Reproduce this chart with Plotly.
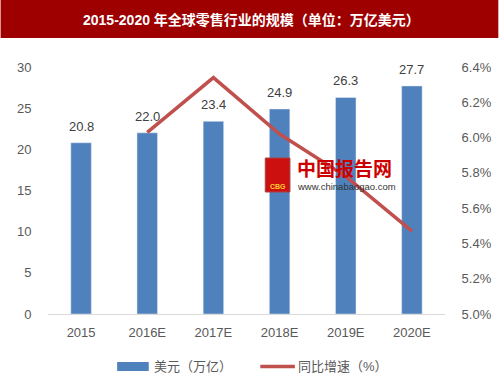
import plotly.graph_objects as go

years = ["2015", "2016E", "2017E", "2018E", "2019E", "2020E"]
sales = [20.8, 22.0, 23.4, 24.9, 26.3, 27.7]
growth_years = ["2016E", "2017E", "2018E", "2019E", "2020E"]
growth = [6.03, 6.34, 6.02, 5.78, 5.47]
legend_names = ["美元（万亿）", "同比增速（%）"]

title = "2015-2020 年全球零售行业的规模（单位：万亿美元）"
cjk = "Liberation Sans, Noto Sans CJK SC, sans-serif"
tickfont = dict(family="Liberation Sans, Noto Sans CJK SC", size=13, color="#595959")
BLUE, RED = "#4f81bd", "#c0504d"

fig = go.Figure()
fig.add_trace(go.Bar(
    x=years, y=sales, name=legend_names[0],
    marker=dict(color=BLUE), showlegend=False,
))
fig.add_trace(go.Scatter(
    x=growth_years, y=growth, name=legend_names[1], yaxis="y2",
    mode="lines", line=dict(color=RED, width=3.5), showlegend=False,
))

L, R, T, B = 48, 54, 67, 72
W, H = 504, 386
pw, ph = W - L - R, H - T - B

def px(x):
    return (x - L) / pw

def py(y):
    return 1 - (y - T) / ph

shapes = [
    dict(type="rect", xref="paper", yref="paper",
         x0=px(0), x1=px(W), y0=py(38), y1=py(0),
         fillcolor="#9e0000", line=dict(width=0), layer="below"),
    # watermark logo
    dict(type="rect", xref="paper", yref="paper",
         x0=px(268), x1=px(293), y0=py(192), y1=py(158),
         fillcolor="#cc1010", line=dict(color="#aa4444", width=1)),
    # manual legend
    dict(type="rect", xref="paper", yref="paper",
         x0=px(118), x1=px(150), y0=py(371), y1=py(362),
         fillcolor=BLUE, line=dict(width=0)),
    dict(type="line", xref="paper", yref="paper",
         x0=px(263), x1=px(298), y0=py(366.5), y1=py(366.5),
         line=dict(color=RED, width=3.5)),
]
annotations = [
    dict(xref="paper", yref="paper", x=px(254), y=py(20),
         text="<b>" + title + "</b>", showarrow=False,
         font=dict(family=cjk, size=14, color="white"), xanchor="center", yanchor="middle"),
    dict(xref="paper", yref="paper", x=px(298), y=py(169),
         text="<b>中国报告网</b>", showarrow=False,
         font=dict(family=cjk, size=19, color="#cc0000"), xanchor="left", yanchor="middle"),
    dict(xref="paper", yref="paper", x=px(298), y=py(186),
         text="www.chinabaogao.com", showarrow=False,
         font=dict(family="Liberation Sans", size=9.5, color="#333333"), xanchor="left", yanchor="middle"),
    dict(xref="paper", yref="paper", x=px(280.5), y=py(186),
         text="<b>CBG</b>", showarrow=False,
         font=dict(family="Liberation Sans", size=7, color="#ffcc33"),
         xanchor="center", yanchor="middle"),
    dict(xref="paper", yref="paper", x=px(153), y=py(366.5),
         text=legend_names[0], showarrow=False,
         font=dict(family=cjk, size=13, color="#595959"), xanchor="left", yanchor="middle"),
    dict(xref="paper", yref="paper", x=px(299), y=py(366.5),
         text=legend_names[1], showarrow=False,
         font=dict(family=cjk, size=13, color="#595959"), xanchor="left", yanchor="middle"),
]
for i, v in enumerate(sales):
    annotations.append(dict(x=i, y=v, xref="x", yref="y", text=f"{v:.1f}",
                            showarrow=False, yanchor="bottom", yshift=7,
                            font=dict(family="Liberation Sans", size=13, color="#404040")))

fig.update_layout(
    width=W, height=H,
    margin=dict(l=L, r=R, t=T, b=B),
    paper_bgcolor="white", plot_bgcolor="white",
    bargap=0.69,
    showlegend=False,
    xaxis=dict(type="category", categoryarray=years, categoryorder="array",
               range=[-0.5, len(years) - 0.5],
               showline=True, linecolor="#d9d9d9", linewidth=1,
               ticks="outside", ticklen=6, tickcolor="white", tickfont=tickfont, showgrid=False),
    yaxis=dict(range=[0, 30], dtick=5, showgrid=False, showline=False, zeroline=False,
               tickfont=tickfont, ticks="outside", ticklen=13, tickcolor="white"),
    yaxis2=dict(range=[5.0, 6.4], dtick=0.2, overlaying="y", side="right",
                showgrid=False, showline=False, zeroline=False,
                tickformat=".1f", ticksuffix="%", tickfont=tickfont,
                ticks="outside", ticklen=13, tickcolor="white"),
    shapes=shapes, annotations=annotations,
)

fig.write_html("out.html", config={"displayModeBar": False},
               post_script="document.body.style.margin='0';document.body.style.overflow='hidden';")
